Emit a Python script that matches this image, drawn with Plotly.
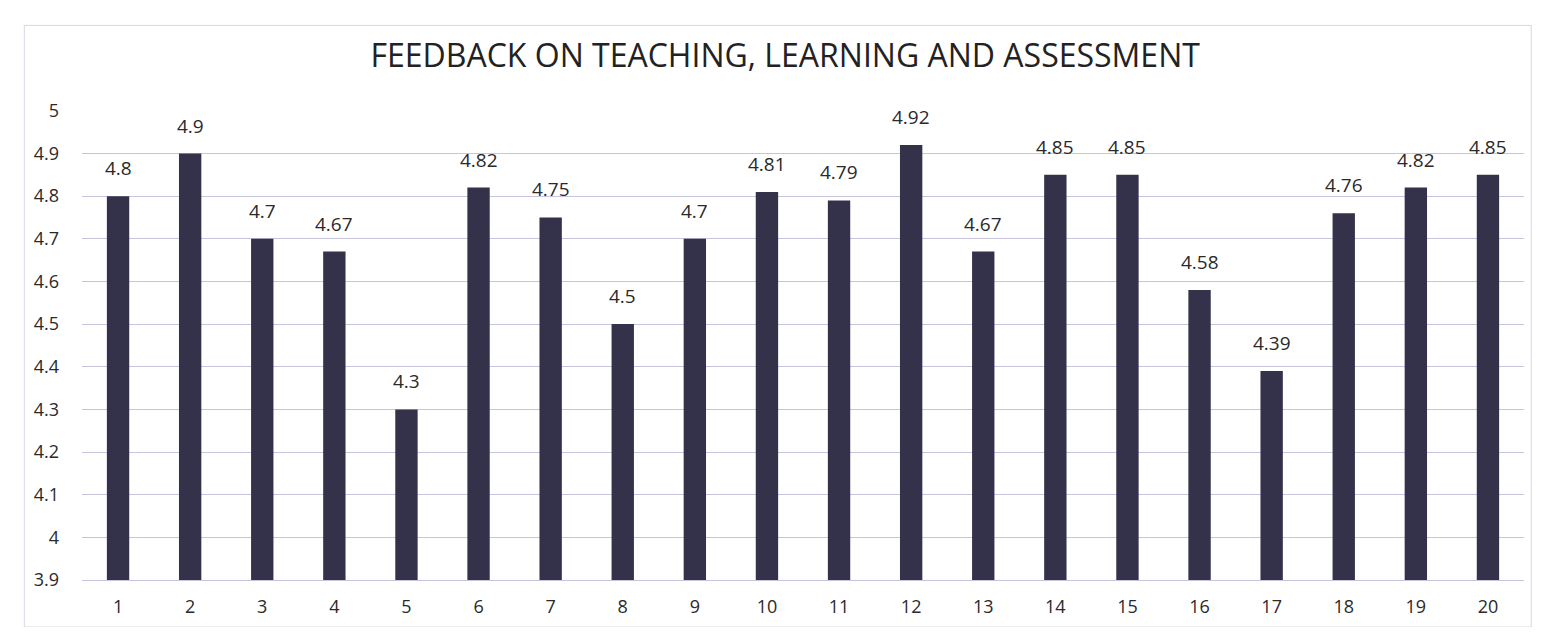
import plotly.graph_objects as go

categories = [str(i) for i in range(1, 21)]
values = [4.8, 4.9, 4.7, 4.67, 4.3, 4.82, 4.75, 4.5, 4.7, 4.81,
          4.79, 4.92, 4.67, 4.85, 4.85, 4.58, 4.39, 4.76, 4.82, 4.85]
value_labels = [f"{v:g}" for v in values]
y_ticks = [3.9, 4.0, 4.1, 4.2, 4.3, 4.4, 4.5, 4.6, 4.7, 4.8, 4.9, 5.0]
y_tick_text = ["3.9", "4", "4.1", "4.2", "4.3", "4.4", "4.5", "4.6", "4.7", "4.8", "4.9", "5"]
base_value = 3.9

fig = go.Figure(go.Bar(
    x=categories, y=[v - base_value for v in values], base=base_value,
    marker=dict(color="#34314a", line=dict(width=0)),
    hovertext=value_labels,
))

annotations = [
    dict(x=i, y=v, xref="x", yref="y", text=t, showarrow=False,
         yanchor="bottom", yshift=13,
         font=dict(size=19, color="#2a2a2a", family="Open Sans"))
    for i, (v, t) in enumerate(zip(values, value_labels))
]

fig.update_layout(
    width=1542, height=619,
    paper_bgcolor="white", plot_bgcolor="white",
    margin=dict(l=74, r=26, t=102, b=47),
    bargap=0.69,
    showlegend=False,
    annotations=annotations,
    title=dict(text="FEEDBACK ON TEACHING, LEARNING AND ASSESSMENT",
               x=0.504, xanchor="center", y=0.923, yanchor="middle",
               font=dict(size=32, color="#222222", family="Open Sans")),
    font=dict(family="Open Sans", color="#333333"),
    xaxis=dict(type="category", showgrid=False, showline=True, linecolor="#c8c4dc",
               ticks="", tickfont=dict(size=18, color="#2a2a2a"), automargin=False),
    yaxis=dict(range=[3.9, 5.002], tickvals=y_ticks, ticktext=y_tick_text,
               showgrid=True, gridcolor="#c8c4dc", gridwidth=1.2,
               zeroline=False, ticks="", tickfont=dict(size=18, color="#2a2a2a"),
               automargin=False),
    shapes=[dict(type="rect", xref="paper", yref="paper", x0=-0.04, x1=1.005, y0=-0.1, y1=1.18,
                 line=dict(color="#d8d6e2", width=1))],
)
fig.update_yaxes(ticklabelstandoff=22)
fig.update_xaxes(ticklabelstandoff=10)

fig.write_html("out.html")
